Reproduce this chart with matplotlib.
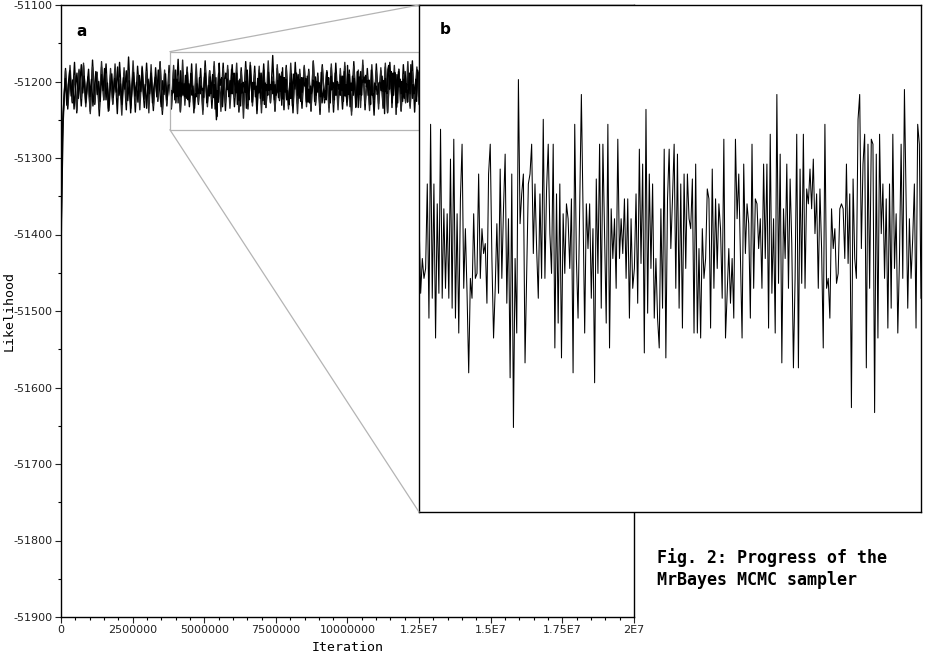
import numpy as np
import matplotlib
matplotlib.use("Agg")
import matplotlib.pyplot as plt
from matplotlib.patches import Rectangle, ConnectionPatch
from matplotlib.ticker import MultipleLocator, FixedLocator

# janela do zoom (painel b)
zoom_x = [3800000, 12500000]
zoom_y = [-51263, -51161]

x_ticks = [0, 2500000, 5000000, 7500000, 10000000, 12500000, 15000000, 17500000, 20000000]
x_tick_labels = ["0", "2500000", "5000000", "7500000", "10000000", "1.25E7", "1.5E7", "1.75E7", "2E7"]
y_ticks = [-51900, -51800, -51700, -51600, -51500, -51400, -51300, -51200, -51100]

# cadeia 1, inicio (burn-in) ate 3.8E6
pre_lnl = [
    -51436, -51262, -51224, -51196, -51231, -51204, -51186, -51219, -51198, -51236,
    -51207, -51189, -51222, -51201, -51178, -51215, -51193, -51228, -51205, -51184,
    -51220, -51197, -51232, -51209, -51187, -51217, -51200, -51226, -51191, -51212,
    -51183, -51224, -51202, -51238, -51208, -51190, -51221, -51196, -51214, -51181,
    -51218, -51203, -51230, -51195, -51210, -51186, -51225, -51199, -51241, -51206,
    -51188, -51219, -51201, -51227, -51192, -51213, -51182, -51223, -51204, -51235,
    -51197, -51216, -51189, -51228, -51207, -51194, -51220, -51185, -51211, -51233,
    -51199, -51217, -51190, -51224, -51205,
]

# cadeia 1, trecho ampliado (3.8E6 a 1.25E7)
zoom_lnl = [
    -51204, -51219, -51212, -51216, -51214, -51197, -51224, -51185, -51220, -51197,
    -51228, -51201, -51219, -51186, -51220, -51202, -51218, -51203, -51220, -51192,
    -51222, -51188, -51224, -51203, -51227, -51200, -51189, -51218, -51206, -51219,
    -51235, -51216, -51220, -51203, -51216, -51215, -51195, -51216, -51206, -51211,
    -51209, -51221, -51195, -51189, -51212, -51228, -51218, -51205, -51219, -51194,
    -51216, -51202, -51191, -51221, -51204, -51236, -51195, -51246, -51212, -51227,
    -51176, -51205, -51199, -51195, -51233, -51215, -51197, -51195, -51189, -51211,
    -51197, -51210, -51220, -51199, -51216, -51184, -51216, -51198, -51189, -51207,
    -51215, -51189, -51230, -51199, -51225, -51197, -51232, -51203, -51215, -51201,
    -51204, -51214, -51200, -51235, -51185, -51212, -51224, -51202, -51179, -51202,
    -51227, -51201, -51210, -51201, -51220, -51206, -51237, -51196, -51215, -51189,
    -51222, -51189, -51207, -51225, -51185, -51230, -51202, -51212, -51204, -51218,
    -51188, -51212, -51204, -51211, -51200, -51216, -51200, -51224, -51204, -51218,
    -51214, -51199, -51221, -51190, -51213, -51193, -51231, -51182, -51223, -51195,
    -51214, -51197, -51224, -51212, -51224, -51230, -51202, -51222, -51190, -51232,
    -51200, -51190, -51210, -51200, -51189, -51218, -51191, -51222, -51197, -51226,
    -51195, -51214, -51195, -51204, -51206, -51196, -51227, -51193,
    -51227, -51210, -51228, -51206, -51216, -51212, -51198, -51200, -51226, -51194,
    -51218, -51200, -51214, -51201, -51206, -51220, -51188, -51228, -51219, -51210,
    -51221, -51212, -51224, -51188, -51204, -51195, -51211, -51228, -51193, -51211,
    -51201, -51205, -51224, -51189, -51218, -51200, -51201, -51210, -51204, -51218,
    -51193, -51212, -51193, -51226, -51187, -51219, -51204, -51227, -51179, -51217,
    -51191, -51233, -51202, -51212, -51193, -51218, -51196, -51209, -51234, -51216,
    -51187, -51234, -51194, -51217, -51187, -51218, -51198, -51201, -51194, -51202,
    -51192, -51207, -51199, -51218, -51198, -51210, -51230, -51185, -51218, -51216,
    -51224, -51202, -51210, -51206, -51217, -51215, -51202, -51201, -51202, -51212,
    -51193, -51213, -51199, -51242, -51196, -51212, -51216, -51184, -51179, -51210,
    -51193, -51187, -51234, -51189, -51218, -51188, -51189, -51243, -51191, -51228,
    -51187, -51207, -51197, -51216, -51200, -51226, -51197, -51222, -51187, -51214,
    -51203, -51227, -51212, -51189, -51216, -51178, -51200, -51222, -51204, -51216,
    -51208, -51197, -51226, -51185, -51189, -51220,
]

# cadeias 2 e 3 (so aparecem no painel a)
chain2_lnl = [
    -51318, -51240, -51186, -51231, -51179, -51226, -51192, -51238, -51184, -51222,
    -51176, -51233, -51195, -51242, -51181, -51228, -51188, -51236, -51174, -51224,
    -51190, -51239, -51183, -51230, -51177, -51221, -51197, -51244, -51182, -51227,
    -51186, -51235, -51173, -51229, -51191, -51237, -51180, -51225, -51187, -51241,
    -51178, -51232, -51194, -51223, -51175, -51238, -51185, -51229, -51189, -51234,
    -51179, -51226, -51193, -51240, -51172, -51231, -51184, -51222, -51188, -51236,
    -51177, -51227, -51196, -51243, -51181, -51233, -51186, -51224, -51174, -51230,
    -51190, -51239, -51183, -51228, -51179, -51235, -51192, -51221, -51176, -51237,
    -51187, -51248, -51182, -51229, -51175, -51232, -51189, -51226, -51180, -51241,
    -51185, -51234, -51173, -51227, -51194, -51238, -51178, -51223, -51188, -51231,
    -51182, -51236, -51176, -51229, -51191, -51242, -51184, -51225, -51179, -51233,
    -51187, -51239, -51174, -51228, -51193, -51235, -51181, -51222, -51186, -51240,
    -51177, -51230, -51190, -51237, -51183, -51226, -51175, -51232, -51189, -51244,
    -51180, -51227, -51185, -51234, -51172, -51229, -51192, -51238, -51178, -51224,
    -51186, -51236, -51182, -51231, -51176, -51240, -51188, -51225, -51179, -51233,
    -51184, -51239, -51191, -51228, -51174, -51235, -51187, -51223, -51181, -51230,
]

chain3_lnl = [
    -51402, -51251, -51183, -51236, -51190, -51228, -51175, -51241, -51186, -51232,
    -51179, -51226, -51194, -51239, -51172, -51230, -51188, -51245, -51181, -51224,
    -51177, -51235, -51191, -51229, -51184, -51242, -51175, -51227, -51189, -51237,
    -51168, -51231, -51186, -51240, -51180, -51223, -51193, -51234, -51176, -51229,
    -51187, -51238, -51182, -51226, -51174, -51243, -51190, -51232, -51179, -51236,
    -51185, -51228, -51171, -51239, -51188, -51225, -51181, -51233, -51177, -51241,
    -51192, -51230, -51183, -51237, -51173, -51227, -51186, -51235, -51180, -51250,
    -51189, -51229, -51176, -51238, -51184, -51224, -51178, -51233, -51191, -51240,
    -51182, -51231, -51174, -51236, -51187, -51227, -51180, -51242, -51185, -51230,
    -51177, -51234, -51193, -51228, -51166, -51239, -51183, -51225, -51188, -51237,
    -51179, -51232, -51186, -51241, -51175, -51229, -51190, -51235, -51181, -51226,
    -51184, -51238, -51173, -51231, -51189, -51243, -51178, -51228, -51186, -51234,
    -51182, -51240, -51176, -51227, -51191, -51236, -51180, -51230, -51185, -51239,
    -51174, -51233, -51188, -51225, -51179, -51237, -51183, -51231, -51192, -51244,
    -51177, -51229, -51186, -51235, -51181, -51241, -51175, -51228, -51189, -51234,
    -51184, -51238, -51178, -51226, -51190, -51232, -51173, -51240, -51187, -51229,
]


def grf_traco():
    fig = plt.figure(figsize=(9.28, 6.70), dpi=100)
    ax = fig.add_axes([61 / 928, 1 - 617 / 670, 573 / 928, 612 / 670])

    pre_iter = np.linspace(0, zoom_x[0], len(pre_lnl), endpoint=False)
    zoom_iter = np.linspace(zoom_x[0], zoom_x[1], len(zoom_lnl))
    chain2_iter = np.linspace(0, zoom_x[1], len(chain2_lnl))
    chain3_iter = np.linspace(0, zoom_x[1], len(chain3_lnl))

    ax.plot(chain3_iter, chain3_lnl, color="black", lw=1.0)
    ax.plot(chain2_iter, chain2_lnl, color="#2a2a2a", lw=1.0)
    ax.plot(np.concatenate([pre_iter, zoom_iter]), pre_lnl + zoom_lnl, color="black", lw=1.0)

    ax.set_xlim(0, 20000000)
    ax.set_ylim(-51900, -51100)
    ax.xaxis.set_major_locator(FixedLocator(x_ticks))
    ax.set_xticklabels(x_tick_labels)
    ax.xaxis.set_minor_locator(MultipleLocator(500000))
    ax.yaxis.set_major_locator(FixedLocator(y_ticks))
    ax.set_yticklabels([str(v) for v in y_ticks])
    ax.yaxis.set_minor_locator(MultipleLocator(50))
    ax.tick_params(which="major", direction="out", length=4, width=0.8, pad=2,
                   labelsize=8, colors="#222222")
    ax.tick_params(which="minor", direction="out", length=2, width=0.8)
    for sp in ax.spines.values():
        sp.set_linewidth(1)

    ax.set_xlabel("Iteration", family="DejaVu Sans Mono", fontsize=9.5, labelpad=4)
    ax.set_ylabel("Likelihood", family="DejaVu Sans Mono", fontsize=9.5)
    ax.yaxis.set_label_coords(-0.079, 0.5)

    # retangulo da janela ampliada
    rect = Rectangle((zoom_x[0], zoom_y[0]), zoom_x[1] - zoom_x[0], zoom_y[1] - zoom_y[0],
                     fill=False, edgecolor="#b4b4b4", lw=0.9, zorder=5)
    ax.add_patch(rect)

    axins = fig.add_axes([419 / 928, 1 - 512 / 670, 502 / 928, 507 / 670])
    axins.plot(zoom_iter, zoom_lnl, color="black", lw=0.75)
    axins.set_xlim(zoom_x)
    axins.set_ylim(zoom_y)
    axins.set_xticks([])
    axins.set_yticks([])
    axins.set_facecolor("white")
    for sp in axins.spines.values():
        sp.set_linewidth(1)

    for yv, yb in [(zoom_y[1], 1), (zoom_y[0], 0)]:
        con = ConnectionPatch(xyA=(zoom_x[0], yv), coordsA="data", axesA=ax,
                              xyB=(0, yb), coordsB="axes fraction", axesB=axins,
                              color="#b4b4b4", lw=0.9)
        fig.add_artist(con)

    fig.text(76 / 928, 1 - 31 / 670, "a", fontsize=11, fontweight="bold", va="center")
    fig.text(440 / 928, 1 - 29 / 670, "b", fontsize=11, fontweight="bold", va="center")

    fig.text(657 / 928, 1 - 563 / 670, "Fig. 2: Progress of the", family="DejaVu Sans Mono",
             fontsize=12, fontweight="bold", va="baseline")
    fig.text(657 / 928, 1 - 585 / 670, "MrBayes MCMC sampler", family="DejaVu Sans Mono",
             fontsize=12, fontweight="bold", va="baseline")

    fig.savefig("out.png", dpi=100)


if __name__ == '__main__':
    grf_traco()
